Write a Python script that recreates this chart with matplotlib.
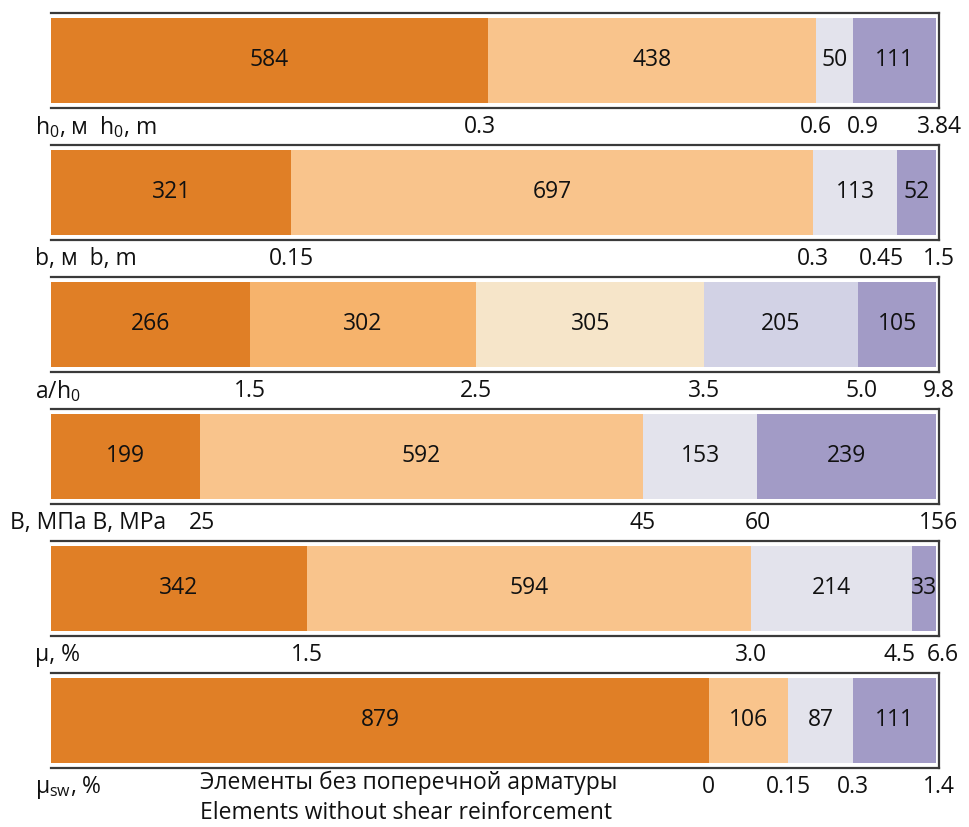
import numpy as np
import matplotlib
matplotlib.use("Agg")
import matplotlib.pyplot as plt
from matplotlib.transforms import blended_transform_factory

plt.rcParams['font.family'] = ['Open Sans', 'DejaVu Sans']
plt.rcParams['mathtext.fontset'] = 'custom'
plt.rcParams['mathtext.rm'] = 'Open Sans'
plt.rcParams['mathtext.it'] = 'Open Sans'

# number of specimens in each range
h0_counts = [584, 438, 50, 111]
b_counts = [321, 697, 113, 52]
ah_counts = [266, 302, 305, 205, 105]
B_counts = [199, 592, 153, 239]
mu_counts = [342, 594, 214, 33]
musw_counts = [879, 106, 87, 111]

# range boundaries shown under each bar
h0_bounds = ['0.3', '0.6', '0.9', '3.84']
b_bounds = ['0.15', '0.3', '0.45', '1.5']
ah_bounds = ['1.5', '2.5', '3.5', '5.0', '9.8']
B_bounds = ['25', '45', '60', '156']
mu_bounds = ['1.5', '3.0', '4.5', '6.6']
musw_bounds = ['0', '0.15', '0.3', '1.4']

names = [r'$\mathrm{h}_{0}$, м  $\mathrm{h}_{0}$, m',
         'b, м  b, m',
         r'a/$\mathrm{h}_{0}$',
         'B, МПа B, МРа',
         'μ, %',
         r'μ$_{\mathrm{sw}}$, %']

DARK = '#E07F26'
LIGHT = '#F9C48C'
MID = '#F6B36C'
CREAM = '#F6E5C9'
GREY = '#E3E3EC'
LAV = '#D2D2E5'
PURPLE = '#A29BC6'

panels = [
    (h0_counts, h0_bounds, [DARK, LIGHT, GREY, PURPLE], [-8, 0, 10, 0]),
    (b_counts, b_bounds, [DARK, LIGHT, GREY, PURPLE], [0, 0, -16, 0]),
    (ah_counts, ah_bounds, [DARK, MID, CREAM, LAV, PURPLE], [0, 0, 0, 4, 0]),
    (B_counts, B_bounds, [DARK, LIGHT, GREY, PURPLE], [2, 0, 0, 0]),
    (mu_counts, mu_bounds, [DARK, LIGHT, GREY, PURPLE], [0, 0, -12, 4]),
    (musw_counts, musw_bounds, [DARK, LIGHT, GREY, PURPLE], [0, 0, 0, 0]),
]
# left edge of the row name, in pixels
name_x = [35, 35, 35, 10, 35, 35]

W, H = 969, 827
fig = plt.figure(figsize=(W / 100, H / 100), dpi=100)
FS = 16.5

left, right = 51, 939
top0, step, hgt = 13, 132, 95

for i, (counts, bounds, colors, offs) in enumerate(panels):
    top = top0 + step * i
    ax = fig.add_axes([left / W, 1 - (top + hgt) / H, (right - left) / W, hgt / H])
    total = sum(counts)
    starts = np.concatenate([[0], np.cumsum(counts)[:-1]])
    ax.barh(0, counts, left=starts, height=0.9, color=colors, edgecolor='none')
    ax.set_xlim(0, total * 1.003)
    ax.set_ylim(-0.5, 0.5)
    ax.set_xticks([])
    ax.set_yticks([])
    ax.spines['left'].set_visible(False)
    for s in ['top', 'bottom', 'right']:
        ax.spines[s].set_linewidth(1.6)
        ax.spines[s].set_color('#3a3a3a')

    for c, s0 in zip(counts, starts):
        ax.text(s0 + c / 2, 0, str(c), ha='center', va='center', fontsize=FS, color='#111111')

    trans = blended_transform_factory(ax.transData, ax.transAxes)
    ends = np.cumsum(counts)
    for j, (lab, e, dx) in enumerate(zip(bounds, ends, offs)):
        if j == len(bounds) - 1:
            e = total * 1.003
        ax.annotate(lab, xy=(e, 0), xycoords=trans, xytext=(dx * 0.72, -14),
                    textcoords='offset points', ha='center', va='center',
                    fontsize=FS, color='#111111', annotation_clip=False)

    ax.annotate(names[i], xy=(0, 0), xycoords='axes fraction',
                xytext=((name_x[i] - left) * 0.72, -14),
                textcoords='offset points', ha='left', va='center',
                fontsize=FS, color='#111111', annotation_clip=False)

fig.text(200 / W, 1 - 783 / H, 'Элементы без поперечной арматуры', ha='left', va='center',
         fontsize=FS, color='#111111')
fig.text(200 / W, 1 - 813 / H, 'Elements without shear reinforcement', ha='left', va='center',
         fontsize=FS, color='#111111')

fig.savefig('out.png', dpi=100, facecolor='white')
